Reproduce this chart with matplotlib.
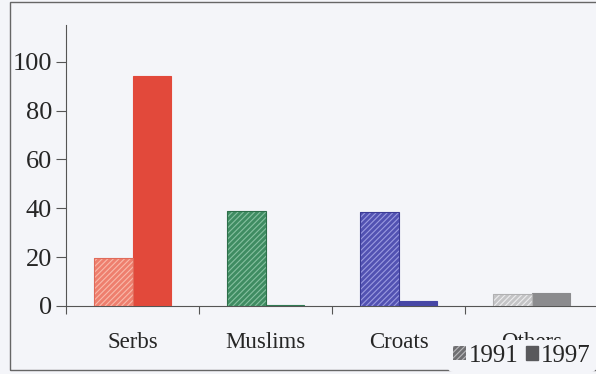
import matplotlib.pyplot as plt
from matplotlib.patches import Patch, Rectangle

groups = ["Serbs", "Muslims", "Croats", "Others"]
share_1991 = [19.5, 39, 38.5, 5]
share_1997 = [94, 0.5, 2.2, 5.5]
years = ["1991", "1997"]

fill_1991 = ["#ee7f6e", "#3f8c62", "#5252b2", "#c4c4c6"]
hatch_1991 = ["#f9b9aa", "#86c0a0", "#9a9ae0", "#ececee"]
edge_1991 = ["#e06a5a", "#2d6f4a", "#3b3b95", "#b0b0b2"]
fill_1997 = ["#e2493b", "#2f7a52", "#4747a6", "#8b8b8e"]
bg = "#f4f5f9"
ink = "#262626"

plt.rcParams["font.family"] = ["Liberation Serif", "DejaVu Serif"]
plt.rcParams["hatch.linewidth"] = 0.8

fig = plt.figure(figsize=(5.96, 3.74), dpi=100, facecolor=bg)
ax = fig.add_axes([66 / 596, 68 / 374, 532 / 596, 281 / 374])
ax.set_facecolor(bg)

x = list(range(len(groups)))
w = 0.29
ax.bar([i - w / 2 for i in x], share_1991, width=w, color=fill_1991,
       edgecolor=hatch_1991, linewidth=0, hatch="//////", zorder=3)
ax.bar([i - w / 2 for i in x], share_1991, width=w, fill=False,
       edgecolor=edge_1991, linewidth=0.8, zorder=4)
ax.bar([i + w / 2 for i in x], share_1997, width=w, color=fill_1997,
       edgecolor=fill_1997, linewidth=0.8, zorder=3)

ax.set_xlim(-0.5, 3.5)
ax.set_ylim(0, 115)
ax.set_yticks(range(0, 101, 20))
ax.set_xticks(x)
ax.set_xticklabels(groups)
ax.set_xticks([-0.5, 0.5, 1.5, 2.5], minor=True)
ax.tick_params(axis="x", which="major", length=0, pad=19, labelsize=16.5,
               labelcolor=ink)
ax.tick_params(axis="x", which="minor", length=6, width=0.8,
               direction="out", color="#555555")
ax.tick_params(axis="y", length=7, width=0.8, color="#555555", labelsize=19,
               labelcolor=ink, pad=3)
for side in ["top", "right"]:
    ax.spines[side].set_visible(False)
ax.spines["left"].set_color("#555555")
ax.spines["bottom"].set_color("#555555")

handles = [Patch(facecolor="#6f6f72", edgecolor="#b8b8bb", linewidth=0,
                 hatch="//////"),
           Patch(facecolor="#59595c", edgecolor="#59595c")]
leg = fig.legend(handles, years, loc="lower right",
                 bbox_to_anchor=(1.0, 0.005), ncol=2, frameon=True,
                 fontsize=18, handlelength=0.5, handleheight=0.5,
                 handletextpad=0.12, columnspacing=0.3, borderpad=0.2,
                 borderaxespad=0)
leg.get_frame().set_facecolor(bg)
leg.get_frame().set_edgecolor("none")
leg.get_frame().set_alpha(1)
for t in leg.get_texts():
    t.set_color(ink)

# outer frame around the chart
fig.patches.append(Rectangle((10 / 596, 4 / 374), 1.0, 368 / 374,
                             transform=fig.transFigure, fill=False,
                             edgecolor="#666666", linewidth=1.0))

fig.savefig("out.png", dpi=100, facecolor=bg)
